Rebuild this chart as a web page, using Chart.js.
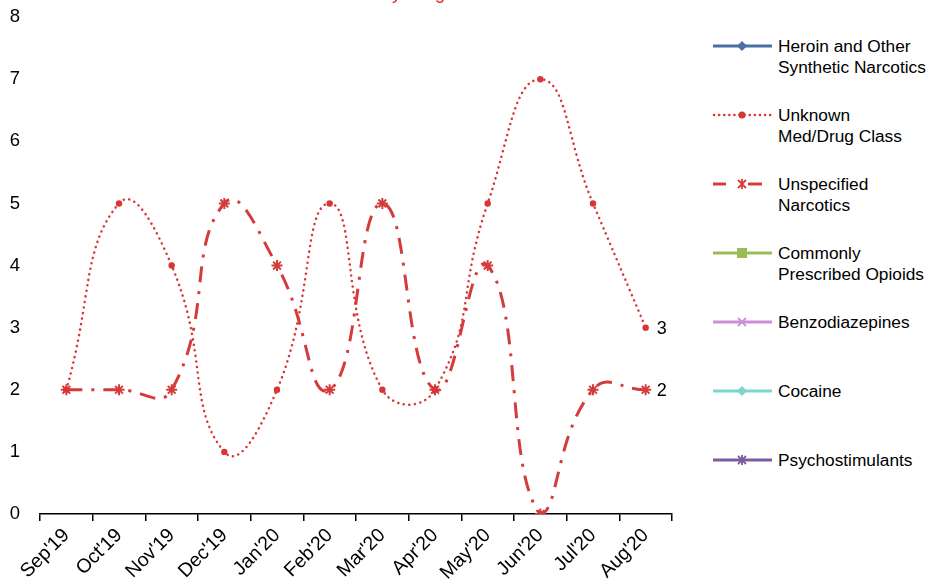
<!DOCTYPE html>
<html>
<head>
<meta charset="utf-8">
<script src="https://cdn.jsdelivr.net/npm/chart.js@4.4.0/dist/chart.umd.min.js"></script>
<style>
  html, body { margin: 0; padding: 0; background: #fff; }
  body { width: 930px; height: 584px; position: relative; overflow: hidden; font-family: "Liberation Sans", Arial, sans-serif; }
  #title { position: absolute; left: 0; width: 884px; top: -16px; text-align: center; color: #d42a2a; font-size: 18px; line-height: 18px; white-space: nowrap; z-index: 2; }
  #wrap { position: absolute; left: 0; top: -14px; width: 700px; height: 598px; }
  #legend { position: absolute; left: 712px; top: 0; width: 218px; height: 584px; }
  .item { position: absolute; left: 0; }
  .item svg { position: absolute; left: 0; top: 0; }
  .item .txt { position: absolute; left: 66px; top: -4px; font-size: 17.3px; line-height: 21px; color: #000; white-space: nowrap; }
</style>
</head>
<body>
<div id="title">Monthly Drug Class Trend</div>
<div id="wrap"><canvas id="c" width="700" height="598"></canvas></div>
<div id="legend"></div>
<script>
const categories = ["Sep'19","Oct'19","Nov'19","Dec'19","Jan'20","Feb'20","Mar'20","Apr'20","May'20","Jun'20","Jul'20","Aug'20"];
const heroinValues = [null,null,null,null,null,null,null,null,null,null,null,null];
const unknownValues = [2,5,4,1,2,5,2,2,5,7,5,3];
const unspecifiedValues = [2,2,2,5,4,2,5,2,4,0,2,2];
const commonlyValues = [null,null,null,null,null,null,null,null,null,null,null,null];
const benzoValues = [null,null,null,null,null,null,null,null,null,null,null,null];
const cocaineValues = [null,null,null,null,null,null,null,null,null,null,null,null];
const psychoValues = [null,null,null,null,null,null,null,null,null,null,null,null];
const yTicks = [0,1,2,3,4,5,6,7,8];

const seriesNames = [["Heroin and Other","Synthetic Narcotics"],["Unknown","Med/Drug Class"],["Unspecified","Narcotics"],["Commonly","Prescribed Opioids"],["Benzodiazepines"],["Cocaine"],["Psychostimulants"]];

const RED1 = '#d93535';
const RED2 = '#d43c3c';

const lastLabel = {
  id: 'lastLabel',
  afterDatasetsDraw(chart) {
    const ctx = chart.ctx;
    ctx.save();
    ctx.font = '18px "Liberation Sans", Arial, sans-serif';
    ctx.fillStyle = '#000';
    ctx.textBaseline = 'middle';
    ctx.textAlign = 'left';
    chart.data.datasets.forEach((ds, i) => {
      if (!ds.labelLast) return;
      const meta = chart.getDatasetMeta(i);
      const n = ds.data.length - 1;
      const pt = meta.data[n];
      ctx.fillText(String(ds.data[n]), pt.x + 11, pt.y + 1);
    });
    ctx.restore();
  }
};

const chart = new Chart(document.getElementById('c'), {
  type: 'line',
  data: {
    labels: categories,
    datasets: [
      { label: 'Heroin and Other Synthetic Narcotics', data: heroinValues, borderColor: '#4a6fa5', backgroundColor: '#4a6fa5', pointStyle: 'rectRot' },
      { label: 'Unknown Med/Drug Class', data: unknownValues, borderColor: RED1, backgroundColor: RED1, borderWidth: 2.5, borderDash: [0.1, 5.5], borderCapStyle: 'round', pointStyle: 'circle', pointRadius: 3.2, pointBorderWidth: 0, tension: 0.5, labelLast: true },
      { label: 'Unspecified Narcotics', data: unspecifiedValues, borderColor: RED2, backgroundColor: RED2, borderWidth: 3, borderDash: [16, 9, 3, 9], pointStyle: 'star', pointRadius: 5.5, pointBorderWidth: 2, tension: 0.5, labelLast: true },
      { label: 'Commonly Prescribed Opioids', data: commonlyValues, borderColor: '#9bbb59' },
      { label: 'Benzodiazepines', data: benzoValues, borderColor: '#c98fd8' },
      { label: 'Cocaine', data: cocaineValues, borderColor: '#7fd3d0' },
      { label: 'Psychostimulants', data: psychoValues, borderColor: '#7f5a9c' }
    ]
  },
  options: {
    responsive: false,
    animation: false,
    layout: { padding: { top: 1, right: 28, left: 0, bottom: 0 } },
    plugins: { legend: { display: false }, tooltip: { enabled: false }, title: { display: false } },
    scales: {
      x: {
        offset: true,
        grid: { display: true, drawOnChartArea: false, drawTicks: true, tickLength: 7, color: '#000', lineWidth: 1.5, offset: true },
        border: { display: true, color: '#000', width: 1.5 },
        ticks: { color: '#000', font: { size: 19.5, family: '"Liberation Sans", Arial, sans-serif' }, maxRotation: 45, minRotation: 45, padding: 3, autoSkip: false },
        afterFit(s) { s.height = 70; }
      },
      y: {
        min: 0, max: 8,
        afterBuildTicks(s) { s.ticks = yTicks.map(v => ({ value: v })); },
        grid: { display: false, drawTicks: false },
        border: { display: false },
        ticks: { color: '#000', font: { size: 18.5, family: '"Liberation Sans", Arial, sans-serif' }, padding: 20 },
        afterFit(s) { s.width = 40; }
      }
    }
  },
  plugins: [lastLabel]
});

// HTML legend
const legendItems = [
  { color: '#4a6fa5', marker: 'diamond', dash: null },
  { color: RED1, marker: 'dot', dash: 'dotted' },
  { color: RED2, marker: 'star', dash: 'dash' },
  { color: '#9bbb59', marker: 'square', dash: null },
  { color: '#c98fd8', marker: 'x', dash: null },
  { color: '#7fd3d0', marker: 'diamond', dash: null },
  { color: '#7f5a9c', marker: 'star', dash: null }
];
const legendTops = [46, 115, 184, 253, 322, 391, 460];
const lg = document.getElementById('legend');
legendItems.forEach((it, i) => {
  const d = document.createElement('div');
  d.className = 'item';
  d.style.top = (legendTops[i] - 6) + 'px';
  let line;
  if (it.dash === 'dotted') {
    line = `<line x1="2" y1="6" x2="60" y2="6" stroke="${it.color}" stroke-width="2.5" stroke-linecap="round" stroke-dasharray="0.1 5"/>`;
  } else if (it.dash === 'dash') {
    line = `<line x1="1" y1="6" x2="14" y2="6" stroke="${it.color}" stroke-width="3"/><line x1="36" y1="6" x2="50" y2="6" stroke="${it.color}" stroke-width="3"/>`;
  } else {
    line = `<line x1="1" y1="6" x2="60" y2="6" stroke="${it.color}" stroke-width="3"/>`;
  }
  let m = '';
  const cx = 30, cy = 6;
  if (it.marker === 'diamond') m = `<polygon points="${cx},${cy-5} ${cx+5},${cy} ${cx},${cy+5} ${cx-5},${cy}" fill="${it.color}"/>`;
  else if (it.marker === 'dot') m = `<circle cx="${cx}" cy="${cy}" r="3.5" fill="${it.color}"/>`;
  else if (it.marker === 'square') m = `<rect x="${cx-5}" y="${cy-5}" width="10" height="10" fill="${it.color}"/>`;
  else if (it.marker === 'x') m = `<path d="M${cx-4},${cy-4}L${cx+4},${cy+4}M${cx+4},${cy-4}L${cx-4},${cy+4}" stroke="${it.color}" stroke-width="1.8"/>`;
  else if (it.marker === 'star') m = `<path d="M${cx-4},${cy-4}L${cx+4},${cy+4}M${cx+4},${cy-4}L${cx-4},${cy+4}M${cx},${cy-5}L${cx},${cy+5}" stroke="${it.color}" stroke-width="1.8"/>`;
  const txt = seriesNames[i].join('<br>');
  d.innerHTML = `<svg width="62" height="12">${line}${m}</svg><div class="txt">${txt}</div>`;
  lg.appendChild(d);
});
</script>
</body>
</html>
